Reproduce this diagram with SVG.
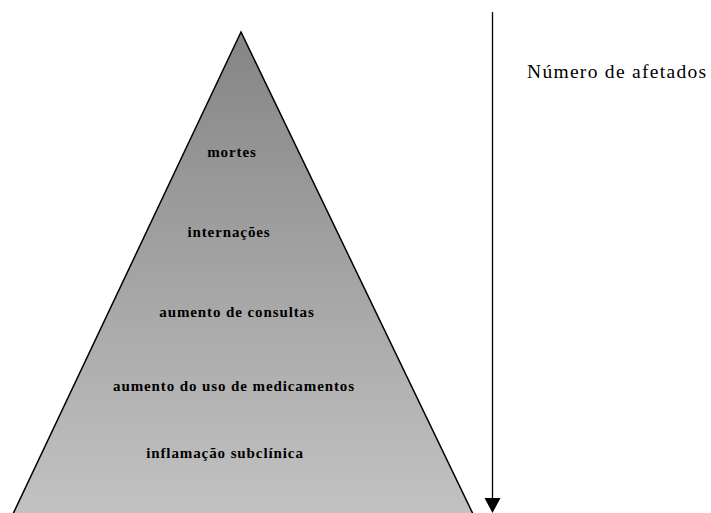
<svg xmlns="http://www.w3.org/2000/svg" width="711" height="513" viewBox="0 0 711 513">
<defs>
<linearGradient id="g" x1="0" y1="0" x2="0" y2="1">
<stop offset="0" stop-color="#858585"/>
<stop offset="1" stop-color="#c2c2c2"/>
</linearGradient>
<style>
.lbl{font-family:"Liberation Serif",serif;font-size:15px;font-weight:bold;fill:#000;text-anchor:middle;letter-spacing:0.9px}
.side{font-family:"Liberation Serif",serif;font-size:19.5px;fill:#000;letter-spacing:1.3px}
</style>
</defs>
<g id="pyramid">
<polygon points="241,32 13,514 473,514" fill="url(#g)" stroke="#000" stroke-width="1.5"/>
</g>
<g id="n1"><text class="lbl" x="232" y="157">mortes</text></g>
<g id="n2"><text class="lbl" x="229" y="237">internações</text></g>
<g id="n3"><text class="lbl" x="237" y="317">aumento de consultas</text></g>
<g id="n4"><text class="lbl" x="234" y="391">aumento do uso de medicamentos</text></g>
<g id="n5"><text class="lbl" x="225" y="458">inflamação subclínica</text></g>
<g id="connectors">
<line x1="492.5" y1="12" x2="492.5" y2="498" stroke="#000" stroke-width="1.3"/>
<path d="M484.5,498 L500.5,498 L492.5,513 Z" fill="#000"/>
</g>
<g id="label"><text class="side" x="527" y="78">Número de afetados</text></g>
</svg>
